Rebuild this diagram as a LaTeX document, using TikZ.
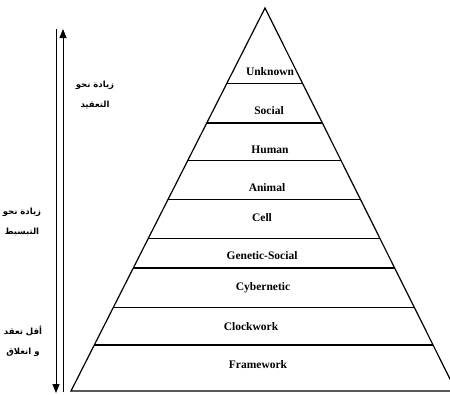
\documentclass[tikz,border=0pt]{standalone}
\usepackage{fontspec}
\setmainfont{Liberation Serif}
\newfontfamily\arabicfont[Script=Arabic]{DejaVu Sans}
\TeXXeTstate=1
\usetikzlibrary{calc,arrows.meta}

\begin{document}
\begin{tikzpicture}
[x=1pt,y=-1pt,%
  lineDecorate/.style={-,line width=1.2pt},%
  levelDecorate/.style={font=\bfseries\fontsize{11.5}{13}\selectfont,inner sep=0pt},%
  noteDecorate/.style={font=\arabicfont\bfseries\fontsize{8.5}{20}\selectfont,align=center,inner sep=0pt},%
  arrowDecorate/.style={-{Triangle[width=7pt,length=9pt]},line width=0.9pt}]
\useasboundingbox (0,0) rectangle (450,394);
\clip (0,0) rectangle (450,394);
%% pyramid corners
\coordinate (apex) at (265,8);
\coordinate (baseL) at (71,391);
\coordinate (baseR) at (456,391);
\draw[lineDecorate] (apex) -- (baseL) -- (baseR) -- cycle;
%% level lines
\foreach \n/\t in {1/0.198, 2/0.300, 3/0.399, 4/0.499,
  5/0.601, 6/0.679, 7/0.781, 8/0.880}
{
  \coordinate (left\n) at ($(apex)!\t!(baseL)$);
  \coordinate (right\n) at ($(apex)!\t!(baseR)$);
  \draw[lineDecorate] (left\n) -- (right\n);
}
%% level names
\foreach \nodename/\levelname/\x/\y in {
  unknown/Unknown/270/72, social/Social/269/111, human/Human/270/150,
  animal/Animal/267/188, cell/Cell/262/218, genetic/Genetic-Social/262/256,
  cybernetic/Cybernetic/263/288, clockwork/Clockwork/251/327,
  framework/Framework/258/365}
{
  \node (\nodename) at (\x,\y) [levelDecorate] {\levelname};
}
%% arrows
\coordinate (upFrom) at (63,392);
\coordinate (upTo) at (63,29);
\coordinate (downFrom) at (56,29);
\coordinate (downTo) at (56,393);
\draw[arrowDecorate] (upFrom) -- (upTo);
\draw[arrowDecorate] (downFrom) -- (downTo);
%% notes
\node (moreComplex) at (95,95) [noteDecorate]
  {\beginR زيادة نحو\endR\\\beginR التعقيد\endR};
\node (moreSimple) at (22,222) [noteDecorate]
  {\beginR زيادة نحو\endR\\\beginR التبسيط\endR};
\node (lessComplex) at (23,341) [noteDecorate]
  {\beginR أقل تعقد\endR\\\beginR و انغلاق\endR};
\end{tikzpicture}
\end{document}
